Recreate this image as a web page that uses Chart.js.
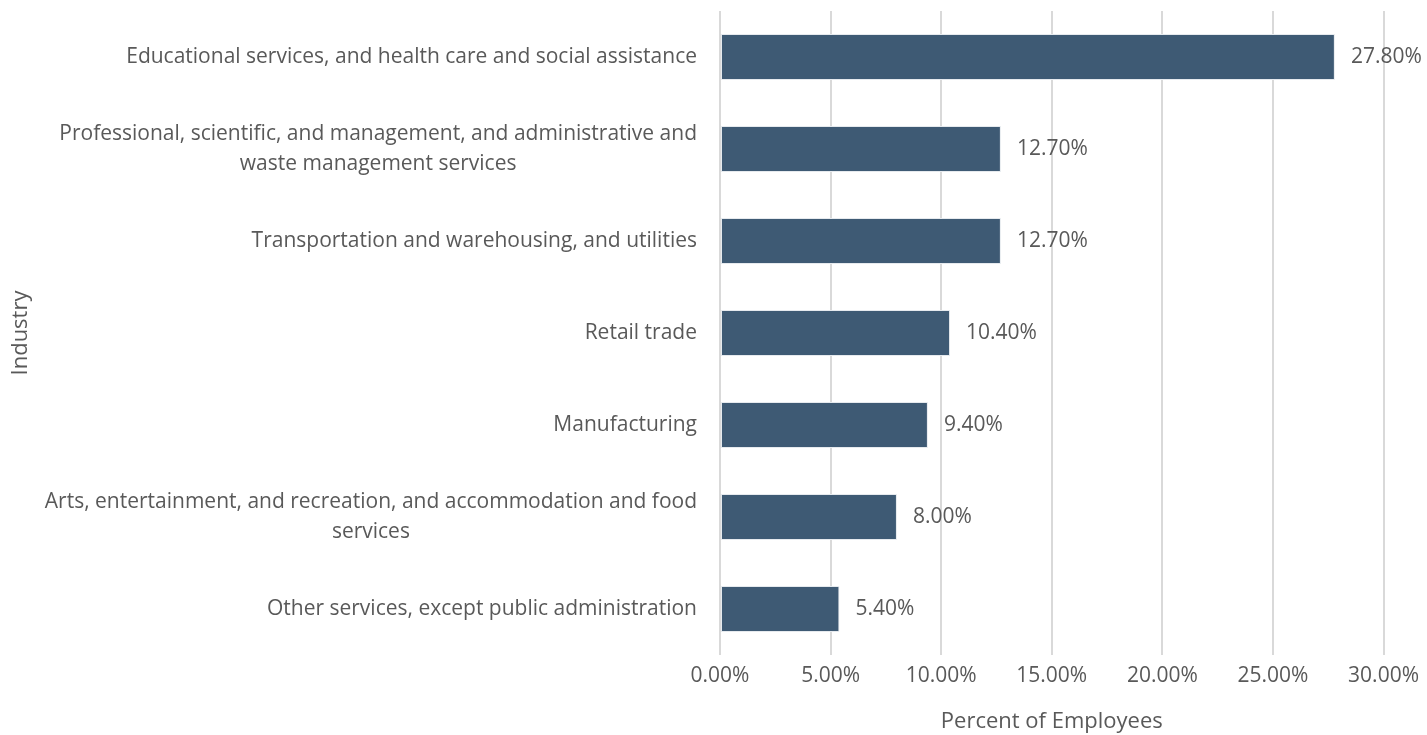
<!DOCTYPE html>
<html>
<head>
<meta charset="utf-8">
<script src="https://cdn.jsdelivr.net/npm/chart.js@4"></script>
<style>
  html, body { margin: 0; padding: 0; background: #fff; }
  #wrap { width: 1427px; height: 735px; }
</style>
</head>
<body>
<div id="wrap"><canvas id="industryChart" width="1427" height="735"></canvas></div>
<script>
// industries, largest share first
const industries = [
  ['Educational services, and health care and social assistance'],
  ['Professional, scientific, and management, and administrative and', 'waste management services'],
  ['Transportation and warehousing, and utilities'],
  ['Retail trade'],
  ['Manufacturing'],
  ['Arts, entertainment, and recreation, and accommodation and food', 'services'],
  ['Other services, except public administration']
];
const percentEmployees = [27.8, 12.7, 12.7, 10.4, 9.4, 8.0, 5.4];
const percentTicks = [0, 5, 10, 15, 20, 25, 30];

const textColor = '#595959';
const fontFamily = '"Open Sans", sans-serif';

// category labels: lines centered on each other, block right-aligned to the axis
const categoryLabels = {
  id: 'categoryLabels',
  afterDraw(chart) {
    const ctx = chart.ctx;
    const y = chart.scales.y;
    const right = chart.chartArea.left - 23;
    const lineHeight = 30;
    ctx.save();
    ctx.font = '21px ' + fontFamily;
    ctx.fillStyle = textColor;
    ctx.textAlign = 'center';
    ctx.textBaseline = 'middle';
    industries.forEach((lines, i) => {
      const blockWidth = Math.max(...lines.map(l => ctx.measureText(l).width));
      const cx = right - blockWidth / 2;
      const cy = y.getPixelForValue(i);
      const top = cy - (lines.length - 1) * lineHeight / 2;
      lines.forEach((line, j) => ctx.fillText(line, cx, top + j * lineHeight));
    });
    ctx.restore();
  }
};

// value labels to the right of each bar
const valueLabels = {
  id: 'valueLabels',
  afterDatasetsDraw(chart) {
    const ctx = chart.ctx;
    const meta = chart.getDatasetMeta(0);
    const x = chart.scales.x;
    ctx.save();
    ctx.font = '21px ' + fontFamily;
    ctx.fillStyle = textColor;
    ctx.textAlign = 'left';
    ctx.textBaseline = 'middle';
    meta.data.forEach((bar, i) => {
      const v = percentEmployees[i];
      ctx.fillText(v.toFixed(2) + '%', x.getPixelForValue(v) + 16, bar.y);
    });
    ctx.restore();
  }
};

new Chart(document.getElementById('industryChart'), {
  type: 'bar',
  data: {
    labels: industries.map(l => l.join(' ')),
    datasets: [{
      data: percentEmployees,
      backgroundColor: '#3e5a74',
      borderColor: '#e6eaee',
      borderWidth: 1,
      borderSkipped: false,
      barPercentage: 0.5,
      categoryPercentage: 1
    }]
  },
  options: {
    indexAxis: 'y',
    responsive: false,
    animation: false,
    layout: { padding: { top: 11, right: 41, bottom: 0, left: 0 } },
    plugins: {
      legend: { display: false },
      tooltip: { enabled: false }
    },
    scales: {
      x: {
        min: 0,
        max: 30,
        afterBuildTicks(scale) {
          scale.ticks = percentTicks.map(v => ({ value: v }));
        },
        afterFit(scale) { scale.height = 80; },
        border: { display: false },
        grid: { color: '#d9d9d9', lineWidth: 2, drawTicks: false },
        ticks: {
          color: textColor,
          font: { family: fontFamily, size: 21 },
          padding: 8,
          maxRotation: 0,
          callback: v => v.toFixed(2) + '%'
        },
        title: {
          display: true,
          text: 'Percent of Employees',
          color: textColor,
          font: { family: fontFamily, size: 22 },
          padding: { top: 0, bottom: 0 }
        }
      },
      y: {
        afterFit(scale) { scale.width = 720; },
        border: { display: false },
        grid: { display: false },
        ticks: { display: false },
        title: {
          display: true,
          text: 'Industry',
          color: textColor,
          font: { family: fontFamily, size: 22 },
          padding: { top: 8, bottom: 0 }
        }
      }
    }
  },
  plugins: [categoryLabels, valueLabels]
});
</script>
</body>
</html>
